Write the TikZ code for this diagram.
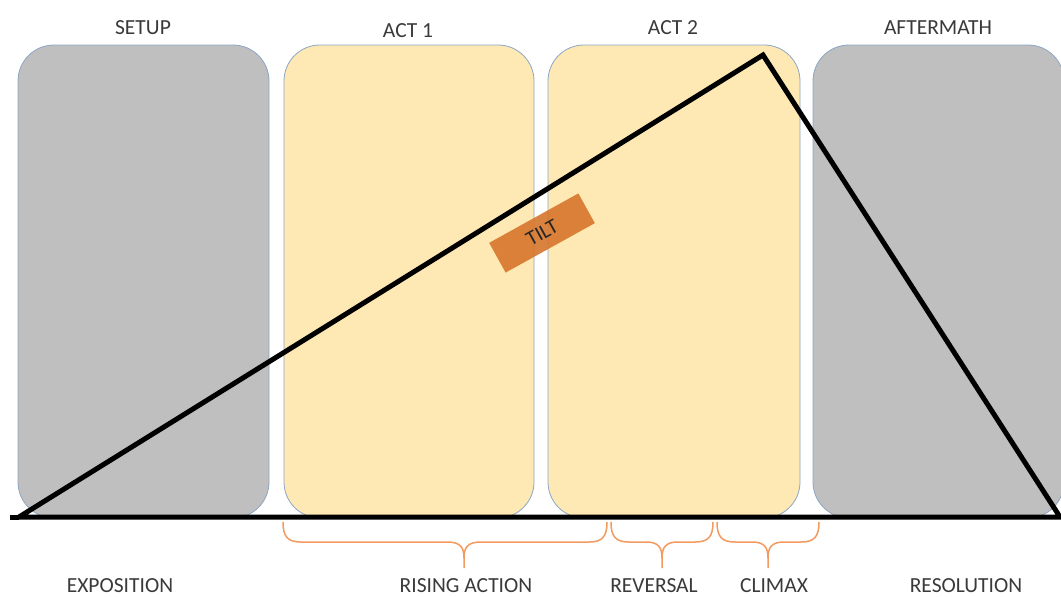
\documentclass[tikz,border=0pt]{standalone}
\usepackage{fontspec}
\setmainfont{Carlito}
\definecolor{boxgray}{HTML}{BFBFBF}
\definecolor{boxyellow}{HTML}{FEE9B4}
\definecolor{boxedge}{HTML}{8CA6C4}
\definecolor{tiltorange}{HTML}{D7782F}
\definecolor{braceorange}{HTML}{F29A60}
\definecolor{labelgray}{HTML}{3A3A3A}
\tikzset{
  phase/.style={draw=boxedge, line width=0.8pt, rounded corners=36pt, minimum width=251pt, minimum height=473pt, inner sep=0pt},
  graybox/.style={phase, fill=boxgray},
  yellowbox/.style={phase, fill=boxyellow},
  lbl/.style={text=labelgray, font=\fontsize{21.5}{24}\selectfont, inner sep=0pt},
  tiltbox/.style={fill=tiltorange, fill opacity=0.92, text opacity=1, text=black!85, minimum width=102pt, minimum height=34pt, inner sep=0pt, font=\fontsize{21}{22}\selectfont},
  plot line/.style={line width=5pt, black, line join=miter},
  brace line/.style={braceorange, line width=1.5pt}
}
\begin{document}
\begin{tikzpicture}[x=1pt,y=-1pt]
\useasboundingbox[fill=white] (0,0) rectangle (1061,597);
% phase boxes
\node[graybox] (setup) at (143.5,281.5) {};
\node[yellowbox, minimum width=250pt] (act1) at (409,281.5) {};
\node[yellowbox, minimum width=252pt] (act2) at (674,281.5) {};
\node[graybox] (after) at (938.5,281.5) {};
% titles
\node[lbl] (tsetup) at (143,28) {SETUP};
\node[lbl] (tact1) at (408,31) {ACT 1};
\node[lbl] (tact2) at (673,28) {ACT 2};
\node[lbl] (tafter) at (938,28) {AFTERMATH};
% tilt
\node[tiltbox, rotate=29] (tilt) at (542,233) {TILT};
% plot triangle
\coordinate (L) at (19,517);
\coordinate (P) at (763,55);
\coordinate (R) at (1060,517);
\draw[plot line] (L) -- (P) -- (R) -- cycle;
\coordinate (B0) at (10,517);
\draw[line width=5pt] (B0) -- (L);
% braces
\draw[brace line] (283,522) .. controls (283,537) and (288,542) .. (301,542) -- (447,542)
  .. controls (460,542) and (464,547) .. (464,558) -- (464,568);
\draw[brace line] (464,558) .. controls (464,547) and (468,542) .. (481,542) -- (589,542)
  .. controls (602,542) and (607,537) .. (607,522);
\draw[brace line] (611,522) .. controls (611,537) and (616,542) .. (629,542) -- (646,542)
  .. controls (658,542) and (662,547) .. (662,558) -- (662,568);
\draw[brace line] (662,558) .. controls (662,547) and (666,542) .. (678,542) -- (695,542)
  .. controls (708,542) and (713,537) .. (713,522);
\draw[brace line] (717,522) .. controls (717,537) and (722,542) .. (735,542) -- (752,542)
  .. controls (764,542) and (768,547) .. (768,558) -- (768,568);
\draw[brace line] (768,558) .. controls (768,547) and (772,542) .. (784,542) -- (801,542)
  .. controls (814,542) and (819,537) .. (819,522);
% bottom labels
\node[lbl] (expo) at (120,586) {EXPOSITION};
\node[lbl] (rising) at (466,586) {RISING ACTION};
\node[lbl] (rev) at (654,586) {REVERSAL};
\node[lbl] (climax) at (774,586) {CLIMAX};
\node[lbl] (reso) at (966,586) {RESOLUTION};
\end{tikzpicture}
\end{document}
